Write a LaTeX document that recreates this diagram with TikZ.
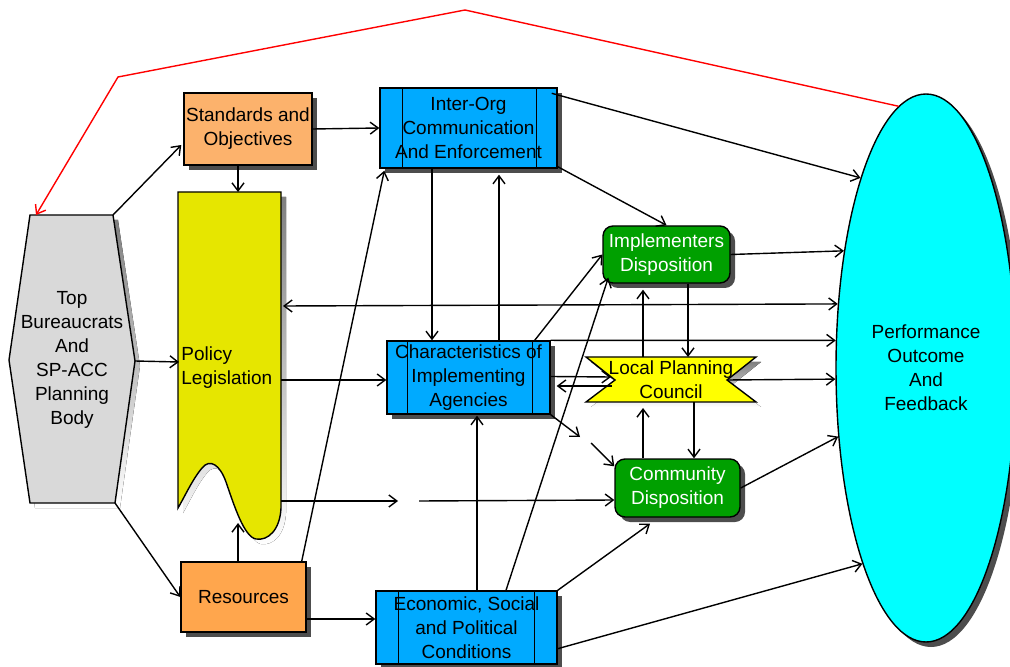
\documentclass[tikz,border=0pt]{standalone}
\usepackage{fontspec}
\setmainfont{Liberation Sans}
\usetikzlibrary{arrows.meta,shapes.geometric,shadows,calc}
\definecolor{stdorange}{RGB}{252,178,108}
\definecolor{resorange}{RGB}{255,166,77}
\definecolor{procblue}{RGB}{0,170,255}
\definecolor{dispgreen}{RGB}{0,160,0}
\definecolor{polyellow}{RGB}{230,230,0}
\definecolor{lpcyellow}{RGB}{255,255,0}
\definecolor{hexgray}{RGB}{217,217,217}
\definecolor{goalcyan}{RGB}{0,255,255}
\definecolor{shade}{RGB}{77,77,77}
\tikzset{
  edged/.style={draw=black, line width=0.7pt},
  txt/.style={inner sep=0pt, align=center, font=\fontsize{9.5}{12}\selectfont},
  shadebox/.style={edged, txt,
    drop shadow={shadow xshift=2.5pt, shadow yshift=-2.5pt, fill=shade, opacity=1}},
  stdbox/.style={shadebox, fill=stdorange},
  resbox/.style={shadebox, fill=resorange},
  procbox/.style={shadebox, fill=procblue},
  dispbox/.style={shadebox, fill=dispgreen, text=white, rounded corners=5pt},
  goalbox/.style={shadebox, ellipse, fill=goalcyan},
  flow/.style={line width=0.7pt, -{Straight Barb[length=4pt,width=6pt]}},
  twoway/.style={flow, {Straight Barb[length=4pt,width=6pt]}-{Straight Barb[length=4pt,width=6pt]}},
  feedback/.style={red, line width=0.7pt, -{Straight Barb[length=4pt,width=6pt]}},
}
\begin{document}
\begin{tikzpicture}[x=0.5pt,y=-0.5pt]
  \useasboundingbox (0,0) rectangle (1010,667);
  % planning body
  \fill[shade,shift={(5,5)}] (30,215) -- (113,215) -- (135,361) -- (115,503) -- (30,503) -- (9,360) -- cycle;
  \path (30,215) coordinate (hexNW) (113,215) coordinate (hexNE) (135,361) coordinate (hexE)
    (115,503) coordinate (hexSE) (30,503) coordinate (hexSW) (9,360) coordinate (hexW);
  \draw[edged, fill=hexgray] (hexNW) -- (hexNE) -- (hexE) -- (hexSE) -- (hexSW) -- (hexW) -- cycle;
  % policy sheet
  \fill[shade,shift={(5,5)}] (178,192) -- (281,192) -- (281,508) .. controls (280,530) and (268,541) .. (256,539)
    .. controls (244,537) and (234,505) .. (226,482) .. controls (220,465) and (210,458) .. (202,468)
    .. controls (192,480) and (184,498) .. (178,508) -- cycle;
  \draw[edged, fill=polyellow] (178,192) -- (281,192) -- (281,508) .. controls (280,530) and (268,541) .. (256,539)
    .. controls (244,537) and (234,505) .. (226,482) .. controls (220,465) and (210,458) .. (202,468)
    .. controls (192,480) and (184,498) .. (178,508) -- cycle;
  \path (238,192) coordinate (polN) (238,523) coordinate (polS) (179,362) coordinate (polW)
    (281,380) coordinate (polE1) (281,501) coordinate (polE2) (283,306) coordinate (polE3);
  % council
  \fill[shade,shift={(5,5)}] (586,357) -- (756,357) -- (727,380) -- (756,402) -- (586,402) -- (615,380) -- cycle;
  \draw[edged, fill=lpcyellow] (586,357) -- (756,357) -- (727,380) -- (756,402) -- (586,402) -- (615,380) -- cycle;
  \path (611,377) coordinate (lpcW) (612,386) coordinate (lpcWb) (727,380) coordinate (lpcE)
    (643,357) coordinate (lpcN1) (688,357) coordinate (lpcN2) (643,408) coordinate (lpcS1) (694,402) coordinate (lpcS2);
  \path (398,501) coordinate (gapA) (419,501) coordinate (gapB) (580,437) coordinate (gapC) (591,443) coordinate (gapD)
    (465,10) coordinate (redA) (118,77) coordinate (redB);
  \draw
    (72,360) node[txt] (top) {Top\\Bureaucrats\\And\\SP-ACC\\Planning\\Body}
    (181,368) node[txt, anchor=west, align=left] (pol) {Policy\\Legislation}
    (671,380) node[txt] (lpc) {Local Planning\\Council}
    (248,129) node[stdbox, minimum width=64pt, minimum height=36pt] (std) {Standards and\\Objectives}
    (243.5,597) node[resbox, minimum width=62.5pt, minimum height=35pt] (res) {Resources}
    (468.5,128) node[procbox, minimum width=88.5pt, minimum height=40pt] (ioc) {Inter-Org\\Communication\\And Enforcement}
    (468.5,377.5) node[procbox, minimum width=81.5pt, minimum height=36.5pt] (cha) {Characteristics of\\Implementing\\Agencies}
    (466.5,627.5) node[procbox, minimum width=90.5pt, minimum height=36.5pt] (eco) {Economic, Social\\and Political\\Conditions}
    (666.5,254.5) node[dispbox, minimum width=63.5pt, minimum height=28.5pt] (imp) {Implementers\\Disposition}
    (677.5,488) node[dispbox, minimum width=62.5pt, minimum height=29pt] (com) {Community\\Disposition}
    (926,368) node[goalbox, minimum width=90pt, minimum height=274pt] (perf) {Performance\\Outcome\\And\\Feedback};
  \draw[edged] ($(ioc.north west)+(23,0)$) -- ($(ioc.south west)+(23,0)$)
    ($(ioc.north east)+(-21,0)$) -- ($(ioc.south east)+(-21,0)$);
  \draw[edged] ($(cha.north west)+(21,0)$) -- ($(cha.south west)+(21,0)$)
    ($(cha.north east)+(-18,0)$) -- ($(cha.south east)+(-18,0)$);
  \draw[edged] ($(eco.north west)+(23,0)$) -- ($(eco.south west)+(23,0)$)
    ($(eco.north east)+(-23,0)$) -- ($(eco.south east)+(-23,0)$);
  \begin{scope}[flow]
    \draw (hexNE) to ($(std.west)+(-2,16)$);
    \draw (hexE) to (polW);
    \draw (hexSE) to (res.west);
    \draw (std.east) to (ioc.west);
    \draw ($(std.south)+(-10,0)$) to (polN);
    \draw ($(res.north)+(-5.5,0)$) to (polS);
    \draw ($(res.east)+(0,22)$) to ($(eco.west)+(0,-8.5)$);
    \draw ($(res.north east)+(-5,0)$) to ($(ioc.south west)+(5,2)$);
    \draw (polE1) to ($(cha.west)+(0,2.5)$);
    \draw (polE2) to (gapA);
    \draw (gapB) to ($(com.west)+(0,12)$);
    \draw ($(ioc.south)+(-36.5,0)$) to ($(cha.north)+(-36.5,0)$);
    \draw ($(cha.north)+(30.5,0)$) to ($(ioc.south)+(30.5,6)$);
    \draw ($(ioc.north east)+(-6,6)$) to (perf.109);
    \draw ($(ioc.south east)+(0,-2)$) to (imp.north);
    \draw (imp.east) to (perf.125.8);
    \draw ($(cha.north east)+(-16,0)$) to (imp.west);
    \draw ($(eco.north)+(39.5,0)$) to ($(imp.south west)+(6,-6)$);
    \draw (cha.north east) to (perf.163.2);
    \draw ($(cha.east)+(0,-1)$) to (lpcW);
    \draw (lpcWb) to ($(cha.east)+(6,8.5)$);
    \draw (lpcE) to (perf.187.6);
    \draw (lpcN1) to ($(imp.south)+(-23.5,6)$);
    \draw ($(imp.south)+(21.5,0)$) to (lpcN2);
    \draw ($(com.north)+(-34.5,0)$) to (lpcS1);
    \draw (lpcS2) to ($(com.north)+(16.5,0)$);
    \draw (cha.south east) to (gapC);
    \draw (gapD) to ($(com.north west)+(0,8)$);
    \draw (com.east) to (perf.218);
    \draw (eco.north east) to ($(com.south)+(-27.5,6)$);
    \draw ($(eco.south east)+(0,-16)$) to (perf.252);
    \draw ($(eco.north)+(10.5,0)$) to ($(cha.south)+(8.5,1)$);
  \end{scope}
  \draw[twoway] (polE3) to (perf.144.7);
  \draw[feedback] (perf.96) -- (redA) -- (redB) -- ($(hexNW)+(6,0)$);
\end{tikzpicture}
\end{document}
